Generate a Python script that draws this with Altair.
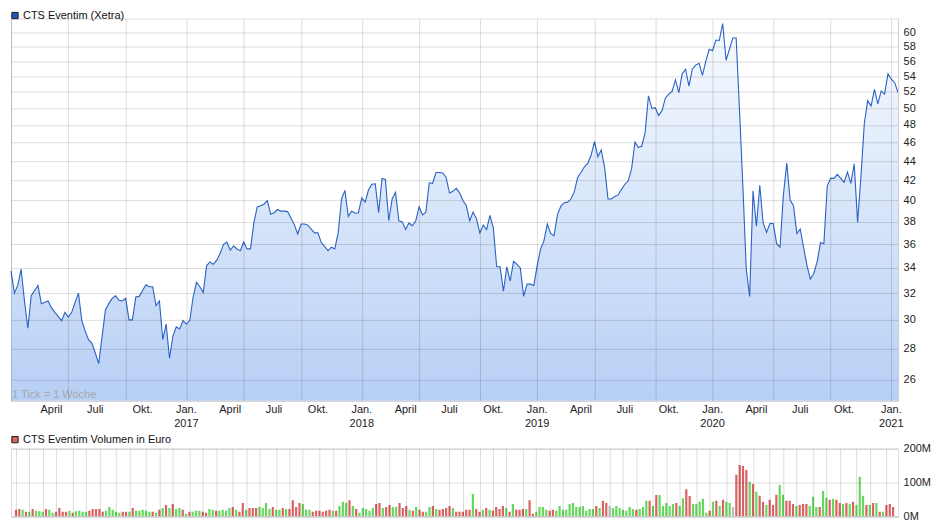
import altair as alt
import pandas as pd

FIRST_WEEK = "2016-01-08"

price = [
    33.76, 32.0, 32.6, 33.9, 31.4, 29.4, 31.8, 32.2, 32.6, 31.2,
    31.3, 31.4, 30.9, 30.55, 30.25, 29.95, 30.55, 30.2, 30.55, 31.3,
    32.0, 29.95, 29.2, 28.6, 28.35, 27.7, 27.0, 28.8, 30.75, 31.2,
    31.6, 31.8, 31.45, 31.4, 31.6, 30.0, 30.0, 31.7, 31.75, 32.2,
    32.65, 32.5, 32.5, 31.05, 31.4, 28.6, 29.7, 27.35, 28.85, 29.5,
    29.35, 29.95, 29.7, 29.95, 31.7, 32.85, 32.5, 32.05, 34.2, 34.5,
    34.3, 34.65, 35.2, 36.0, 36.2, 35.5, 35.85, 35.6, 35.45, 36.2,
    35.6, 35.6, 37.9, 39.4, 39.5, 39.65, 40.0, 38.7, 38.85, 39.15,
    39.0, 39.0, 38.95, 38.35, 37.75, 36.9, 37.8, 37.8, 37.7, 37.35,
    37.0, 37.0, 36.15, 35.8, 35.45, 35.75, 35.6, 37.0, 40.15, 41.0,
    38.5, 39.0, 38.8, 38.85, 40.25, 39.85, 41.05, 41.6, 41.65, 38.85,
    42.2, 42.1, 38.1, 40.15, 40.8, 38.1, 38.0, 37.3, 37.9, 37.65,
    38.1, 39.4, 38.65, 38.9, 41.75, 41.7, 42.8, 42.8, 42.75, 42.3,
    40.75, 40.9, 41.2, 40.75, 40.0, 39.5, 38.1, 38.9, 38.3, 37.0,
    37.7, 37.3, 38.6, 37.45, 34.1, 34.1, 32.15, 34.1, 32.95, 34.55,
    34.3, 34.0, 31.75, 32.7, 32.7, 32.6, 34.2, 35.6, 36.3, 37.8,
    36.95, 36.75, 38.65, 39.45, 39.8, 39.85, 40.15, 40.85, 42.3, 42.8,
    43.4, 43.75, 44.65, 46.1, 44.45, 45.2, 43.3, 40.15, 40.15, 40.4,
    40.55, 41.1, 41.6, 41.95, 43.2, 46.05, 45.45, 45.6, 47.1, 51.5,
    49.95, 50.05, 49.1, 49.65, 51.2, 51.7, 52.05, 53.5, 51.9, 54.3,
    54.9, 52.7, 54.9, 55.45, 55.7, 54.1, 56.0, 57.6, 57.4, 58.9,
    58.85, 61.3, 56.1, 57.6, 59.2, 59.2, 49.6, 41.3, 33.9, 31.75,
    40.95, 37.6, 41.5, 37.9, 37.05, 37.85, 37.85, 36.05, 35.75, 40.55,
    43.8, 40.05, 39.5, 36.95, 37.35, 35.7, 34.2, 33.1, 33.55, 34.5,
    36.15, 36.05, 41.45, 42.2, 42.2, 42.6, 42.2, 41.8, 42.85, 41.7,
    43.7, 37.95, 42.45, 48.2, 50.9, 50.25, 52.3, 50.5, 52.1, 51.7,
    54.3, 53.6, 53.15, 51.9,
]

# weekly trading volume in million euro
volume_m = [
    20, 22, 20, 14, 14, 22, 17, 15, 14, 22,
    20, 11, 14, 25, 14, 14, 17, 11, 15, 17,
    14, 14, 17, 22, 22, 22, 14, 17, 28, 20,
    14, 11, 14, 14, 14, 25, 17, 17, 20, 17,
    14, 14, 11, 20, 25, 34, 25, 37, 22, 25,
    20, 8, 14, 14, 17, 17, 14, 11, 22, 20,
    17, 17, 20, 17, 25, 28, 20, 14, 40, 20,
    25, 25, 25, 28, 25, 40, 22, 28, 20, 20,
    25, 22, 22, 48, 28, 40, 37, 20, 20, 14,
    17, 17, 14, 17, 20, 17, 17, 31, 43, 40,
    48, 31, 22, 11, 25, 22, 17, 25, 37, 40,
    25, 28, 34, 28, 28, 40, 25, 31, 20, 17,
    28, 20, 14, 14, 28, 31, 22, 20, 22, 25,
    31, 25, 14, 14, 14, 20, 20, 66, 22, 14,
    20, 25, 20, 17, 28, 22, 31, 25, 14, 37,
    20, 20, 22, 22, 48, 8, 14, 28, 28, 20,
    17, 20, 17, 31, 20, 20, 37, 40, 28, 28,
    31, 17, 22, 22, 31, 25, 46, 40, 31, 25,
    31, 25, 20, 17, 28, 22, 20, 22, 28, 46,
    46, 31, 63, 63, 31, 40, 31, 37, 40, 31,
    54, 80, 60, 37, 37, 43, 52, 11, 17, 43,
    46, 31, 49, 43, 40, 28, 123, 152, 149, 137,
    102, 96, 73, 61, 43, 34, 49, 34, 64, 93,
    64, 46, 46, 37, 31, 34, 37, 37, 31, 58,
    28, 28, 75, 55, 49, 52, 49, 40, 37, 40,
    37, 43, 34, 117, 61, 34, 34, 40, 40, 14,
    14, 34, 37, 28,
]

# bar colour per week: g = up, r = down, n = unchanged
direction_rows = [
    "rrgrgrgggr", "ggrrrrgrgg", "ggrrrrrggg", "ggrrgrgggg", "grgrgrgrgg",
    "rgrgggrrgg", "rggggrgrrg", "rrrggggrgg", "rgrrrrgggr", "rrrrrgrggg",
    "rgrgggggrr", "grrggrrrgr", "grrggrgrrr", "rgrrrrrgrr", "grgrrrrgrg",
    "rrrgrrgggg", "rrgggggggg", "ggggrgrrng", "ggggggrggg", "rgrggggg"
    "rg", "grrggggg", "rgrgrggnrr", "rrgrgrrgrr", "rggrrrgrrr",
    "gggrggrgrr", "grgrgggrgr", "grgrrr",
]
direction = "".join(direction_rows)

# weeks whose Friday was an exchange holiday (no grid line there)
holidays = ["2016-01-01", "2020-05-01", "2021-01-01"]
month_names = {1: "Jan.", 4: "April", 7: "Juli", 10: "Okt."}

dir_name = {"g": "up", "r": "down", "n": "flat"}

dates = pd.date_range(FIRST_WEEK, periods=len(price), freq="7D")
df = pd.DataFrame({
    "date": dates.strftime("%Y-%m-%d"),
    "price": price,
    "vol": volume_m,
    "dir": [dir_name[c] for c in direction],
})


def ms(ts):
    return int(pd.Timestamp(ts).tz_localize("UTC").timestamp() * 1000)


# grid at the first weekly tick of every month
trade_dates = dates[~dates.strftime("%Y-%m-%d").isin(holidays)]
firsts = trade_dates.to_series().groupby(trade_dates.to_period("M")).first()
grid_ms = [ms(t) for t in firsts]
x_domain = [ms(dates[0]), ms(dates[-1])]

lab_rows = []
for t in firsts:
    if t.month in month_names and t > pd.Timestamp("2016-02-01"):
        lab_rows.append({
            "date": t.strftime("%Y-%m-%d"),
            "month": month_names[t.month],
            "year": str(t.year) if t.month == 1 else "",
        })
lab_df = pd.DataFrame(lab_rows)

W = 889
H_PRICE = 383
H_VOL = 68
FONT = "Liberation Sans"
Y_MIN, Y_MAX = 24.69, 62.04
price_ticks = list(range(26, 61, 2))

x_scale = alt.Scale(type="utc", domain=x_domain, nice=False)

x_price = alt.X(
    "date:T", scale=x_scale,
    axis=alt.Axis(
        values=grid_ms, grid=True, gridColor="#000000", gridOpacity=0.14,
        ticks=False, labels=False, domain=True, domainColor="#cfcfcf",
        title=None, zindex=1,
    ),
)
y_price = alt.Y(
    "price:Q",
    scale=alt.Scale(type="log", domain=[Y_MIN, Y_MAX], nice=False),
    axis=alt.Axis(
        orient="right", values=price_ticks, format=".0f", grid=True,
        gridColor="#000000", gridOpacity=0.14, ticks=False, domain=True,
        domainColor="#cfcfcf", labelPadding=5, labelFontSize=11,
        labelColor="#222222", labelFont=FONT, labelOverlap=False,
        title=None, zindex=1,
    ),
)

base = alt.Chart(df)

area = base.mark_area(
    color=alt.Gradient(
        gradient="linear",
        stops=[alt.GradientStop(color="#f8fbff", offset=0),
               alt.GradientStop(color="#b7cff5", offset=1)],
        x1=1, x2=1, y1=0, y2=1,
    )
).encode(x=x_price, y=y_price, y2=alt.Y2Datum(Y_MIN))

line = base.mark_line(color="#2a63c4", strokeWidth=1.1).encode(
    x=alt.X("date:T"), y=alt.Y("price:Q")
)

month_txt = alt.Chart(lab_df).mark_text(
    align="center", baseline="top", fontSize=11, font=FONT, color="#222222"
).encode(x=alt.X("date:T"), y=alt.value(H_PRICE + 3), text="month:N")
year_txt = alt.Chart(lab_df).mark_text(
    align="center", baseline="top", fontSize=11, font=FONT, color="#222222"
).encode(x=alt.X("date:T"), y=alt.value(H_PRICE + 17), text="year:N")

title_df = pd.DataFrame({"label": ["CTS Eventim (Xetra)"]})
title_sq = alt.Chart(title_df).mark_square(
    size=40, filled=True, color="#2157b8", stroke="#1a1a1a", strokeWidth=1, opacity=1
).encode(x=alt.value(4), y=alt.value(-3))
title_txt = alt.Chart(title_df).mark_text(
    align="left", baseline="middle", fontSize=11, font=FONT, color="#111111"
).encode(text="label:N", x=alt.value(12), y=alt.value(-3))

tick_df = pd.DataFrame({"label": ["1 Tick = 1 Woche"]})
tick_txt = alt.Chart(tick_df).mark_text(
    align="left", baseline="middle", fontSize=11, font=FONT, color="#a8a8a8"
).encode(text="label:N", x=alt.value(1), y=alt.value(H_PRICE - 6))

price_chart = alt.layer(
    area, line, month_txt, year_txt, tick_txt, title_sq, title_txt
).properties(width=W, height=H_PRICE)

x_vol = alt.X(
    "date:T", scale=x_scale,
    axis=alt.Axis(
        values=grid_ms, grid=True, gridColor="#000000", gridOpacity=0.14,
        ticks=False, labels=False, domain=True, domainColor="#cfcfcf",
        title=None, zindex=1,
    ),
)
y_vol = alt.Y(
    "vol:Q", scale=alt.Scale(domain=[0, 200], nice=False),
    axis=alt.Axis(
        orient="right", values=[0, 100, 200], labelExpr="datum.value + 'M'",
        grid=True, gridColor="#000000", gridOpacity=0.14, ticks=False,
        domain=False, labelPadding=5, labelFontSize=11, labelColor="#222222",
        labelFont=FONT, title=None, zindex=1,
    ),
)
bars = base.mark_bar(size=2.2, clip=True).encode(
    x=x_vol, y=y_vol,
    color=alt.Color(
        "dir:N",
        scale=alt.Scale(domain=["up", "down", "flat"],
                        range=["#66d65c", "#d96262", "#bdbdbd"]),
        legend=None,
    ),
)

vol_df = pd.DataFrame({"label": ["CTS Eventim Volumen in Euro"]})
vol_sq = alt.Chart(vol_df).mark_square(
    size=40, filled=True, color="#d96262", stroke="#1a1a1a", strokeWidth=1, opacity=1
).encode(x=alt.value(4), y=alt.value(-9))
vol_txt = alt.Chart(vol_df).mark_text(
    align="left", baseline="middle", fontSize=11, font=FONT, color="#111111"
).encode(text="label:N", x=alt.value(12), y=alt.value(-9))

vol_chart = alt.layer(bars, vol_sq, vol_txt).properties(width=W, height=H_VOL)

chart = (
    alt.vconcat(price_chart, vol_chart, spacing=3)
    .properties(padding={"left": 0, "top": 0, "right": 0, "bottom": 0})
    .configure_view(stroke="#d0d0d0", strokeWidth=1)
    .configure(font=FONT)
)

chart.save("out.html", embed_options={"renderer": "svg", "actions": False})
